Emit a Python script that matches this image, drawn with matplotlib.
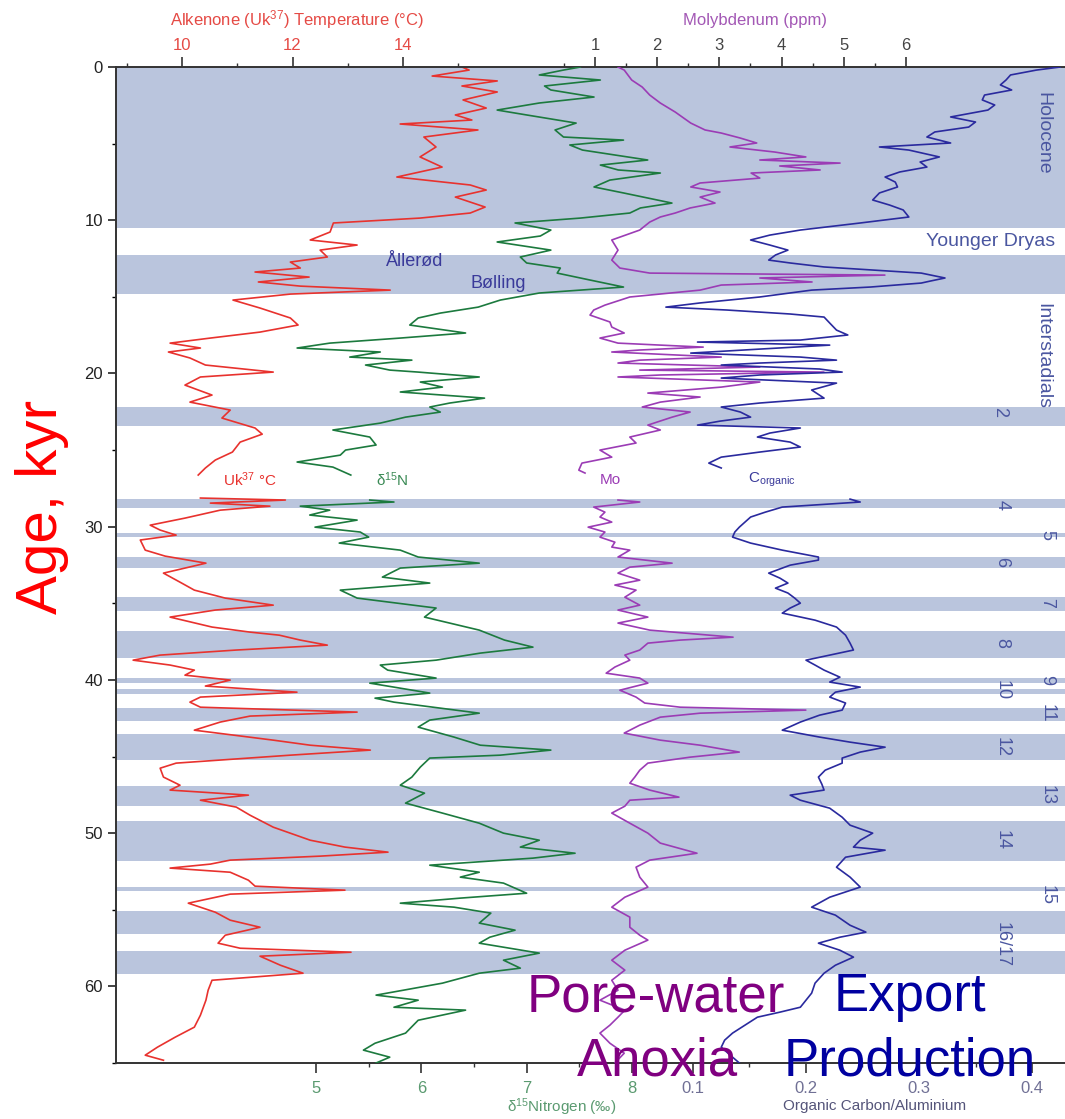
import numpy as np
import matplotlib
matplotlib.use('Agg')
import matplotlib.pyplot as plt
from matplotlib.ticker import FixedLocator

plt.rcParams['font.family'] = ['Liberation Sans', 'DejaVu Sans']
plt.rcParams['mathtext.fontset'] = 'custom'
plt.rcParams['mathtext.rm'] = 'Liberation Sans'
plt.rcParams['mathtext.it'] = 'Liberation Sans:italic'

# Alkenone temperature (deg C) vs age (kyr), two segments (gap ~27-28 kyr)
uk_age_a = [0, 0.2, 0.59, 0.91, 1.24, 1.63, 2.15, 2.68, 3.13, 3.46, 3.72, 4.11,
            4.57, 5.22, 5.87, 6.53, 7.18, 7.70, 8.03, 8.49, 9.14, 9.53, 9.86,
            10.18, 10.77, 11.29, 11.62, 11.95, 12.40, 12.73, 13.12, 13.38,
            13.71, 14.03, 14.30, 14.56, 14.82, 15.21, 15.73, 16.38, 16.84,
            17.30, 17.69, 18.02, 18.34, 18.60, 18.99, 19.45, 19.91, 20.23,
            20.76, 21.41, 21.87, 22.39, 22.91, 23.56, 23.96, 24.48, 25.13,
            25.65, 26.17, 26.63]
uk_temp_a = [15.07, 15.20, 14.53, 15.71, 15.07, 15.71, 15.09, 15.51, 14.95,
             15.25, 13.95, 15.36, 14.38, 14.60, 14.31, 14.71, 13.89, 15.22,
             15.51, 14.95, 15.49, 15.22, 14.31, 12.74, 12.68, 12.32, 13.17,
             12.50, 12.63, 11.96, 12.14, 11.32, 12.30, 11.38, 12.14, 13.77,
             11.96, 10.92, 11.41, 11.96, 12.10, 11.41, 10.51, 9.78, 10.33,
             9.75, 10.14, 10.42, 11.65, 10.33, 10.05, 10.54, 10.14, 10.87,
             10.72, 11.32, 11.45, 11.05, 10.91, 10.60, 10.42, 10.29]
uk_age_b = [28.13, 28.26, 28.46, 28.66, 28.92, 29.44, 29.90, 30.22, 30.55,
            30.87, 31.53, 31.92, 32.38, 33.03, 33.62, 34.14, 34.66, 35.12,
            35.44, 35.90, 36.55, 36.88, 37.08, 37.40, 37.73, 38.05, 38.38,
            38.71, 39.03, 39.36, 39.69, 40.01, 40.40, 40.80, 41.12, 41.45,
            41.78, 42.10, 42.36, 42.75, 43.28, 43.93, 44.26, 44.58, 44.91,
            45.43, 45.76, 46.34, 46.87, 47.19, 47.52, 47.85, 48.30, 48.83,
            49.61, 50.46, 50.91, 51.24, 51.50, 51.76, 52.02, 52.28, 52.55,
            53.07, 53.46, 53.72, 53.98, 54.57, 55.16, 55.68, 56.14, 56.66,
            57.18, 57.51, 57.77, 58.03, 58.62, 59.14, 59.60, 60.25, 60.90,
            61.88, 62.66, 63.32, 63.97, 64.49, 64.82]
uk_temp_b = [10.33, 11.87, 10.51, 11.59, 10.69, 10.05, 9.42, 9.60, 9.89, 9.24,
             9.33, 9.69, 10.43, 9.66, 9.96, 10.22, 10.78, 11.65, 10.60, 9.78,
             10.54, 11.23, 11.76, 12.14, 12.63, 10.98, 9.60, 9.11, 9.78,
             10.22, 10.05, 10.87, 10.42, 12.08, 10.33, 10.14, 10.33, 13.17,
             11.23, 10.69, 10.22, 11.65, 12.32, 13.41, 11.96, 9.89, 9.60,
             9.66, 9.96, 9.78, 11.20, 10.33, 10.98, 11.23, 11.65, 12.32, 12.95,
             13.73, 12.50, 10.87, 10.51, 9.78, 10.87, 11.20, 11.32, 12.95,
             10.87, 10.11, 10.60, 10.87, 11.41, 10.78, 10.65, 11.05, 13.06,
             11.41, 11.78, 12.19, 10.54, 10.47, 10.43, 10.33, 10.22, 9.87,
             9.55, 9.33, 9.66]

# delta 15N (permil)
n_age_a = [0, 0.2, 0.52, 0.85, 1.24, 1.50, 1.96, 2.35, 2.81, 3.13, 3.66, 4.11,
           4.57, 4.77, 5.09, 5.42, 6.07, 6.40, 6.72, 6.92, 7.38, 7.83, 8.22,
           8.88, 9.20, 9.53, 9.86, 10.18, 10.64, 11.03, 11.42, 11.95, 12.40,
           12.79, 13.12, 13.45, 13.90, 14.36, 14.75, 15.21, 15.67, 16.06,
           16.38, 16.84, 17.36, 17.69, 18.02, 18.34, 18.60, 18.93, 19.13,
           19.45, 19.78, 19.91, 20.23, 20.56, 20.89, 21.21, 21.61, 21.93,
           22.19, 22.52, 22.85, 23.24, 23.69, 24.15, 24.67, 25.00, 25.33,
           25.78, 26.11, 26.63]
n_val_a = [7.51, 7.35, 7.12, 7.70, 7.17, 7.23, 7.64, 7.12, 6.72, 7.00, 7.47,
           7.27, 7.35, 7.92, 7.41, 7.53, 8.15, 7.70, 7.87, 8.27, 7.79, 7.64,
           7.92, 8.38, 8.08, 7.98, 7.51, 6.89, 7.23, 7.13, 6.72, 7.23, 6.94,
           7.00, 7.32, 7.29, 7.60, 7.92, 7.12, 6.75, 6.54, 6.18, 5.97, 5.89,
           6.42, 5.80, 5.13, 4.82, 5.61, 5.32, 5.91, 5.47, 5.70, 5.97, 6.55,
           5.99, 6.20, 5.80, 6.60, 6.27, 6.08, 6.18, 5.85, 5.61, 5.16, 5.51,
           5.57, 5.28, 5.23, 4.82, 5.16, 5.33]
n_age_b = [28.26, 28.39, 28.66, 28.92, 29.24, 29.57, 30.03, 30.35, 30.68,
           31.07, 31.53, 31.98, 32.38, 32.70, 33.29, 33.68, 34.14, 34.66,
           35.31, 35.90, 36.75, 37.40, 37.86, 38.25, 38.71, 39.03, 39.36,
           39.88, 40.21, 40.47, 40.86, 41.19, 41.45, 42.17, 42.62, 43.08,
           43.73, 44.26, 44.58, 44.91, 45.10, 45.69, 46.34, 46.87, 47.39,
           48.04, 48.69, 49.35, 50.00, 50.46, 50.91, 51.31, 51.63, 52.09,
           52.55, 52.87, 53.26, 53.92, 54.24, 54.57, 54.83, 55.22, 55.87,
           56.33, 56.79, 57.18, 57.83, 58.29, 58.81, 59.14, 59.79, 60.57,
           60.90, 61.36, 61.55, 62.21, 63.05, 63.71, 64.16, 64.62, 65.0]
n_val_b = [5.51, 5.74, 4.85, 5.13, 4.94, 5.39, 4.99, 5.42, 5.50, 5.22, 5.80,
           5.97, 6.55, 5.80, 5.63, 6.08, 5.23, 5.39, 6.14, 6.03, 6.55, 6.79,
           7.06, 6.56, 6.14, 5.61, 5.68, 6.14, 5.51, 5.74, 6.08, 5.56, 5.74,
           6.55, 6.08, 5.97, 6.31, 6.56, 7.23, 6.75, 6.08, 5.99, 5.91, 5.80,
           6.03, 5.85, 6.20, 6.55, 6.78, 7.12, 6.94, 7.46, 7.06, 6.08, 6.55,
           6.37, 6.78, 7.00, 6.37, 5.80, 6.31, 6.66, 6.55, 6.89, 6.65, 6.55,
           7.12, 6.78, 6.94, 6.55, 6.20, 5.57, 5.97, 5.74, 6.42, 5.97, 5.85,
           5.56, 5.45, 5.70, 5.57]

# Molybdenum (ppm)
mo_age_a = [0, 0.2, 0.85, 1.31, 1.83, 2.35, 2.94, 3.66, 4.11, 4.31, 4.63,
            4.96, 5.22, 5.55, 5.87, 6.07, 6.27, 6.46, 6.72, 6.92, 7.25, 7.57,
            7.83, 8.16, 8.49, 8.88, 9.20, 9.53, 9.79, 10.12, 10.64, 11.29,
            11.95, 12.60, 13.12, 13.45, 13.58, 13.77, 14.03, 14.23, 14.56,
            15.01, 15.54, 15.86, 16.19, 16.64, 16.97, 17.36, 17.69, 18.02,
            18.28, 18.47, 18.60, 18.93, 19.13, 19.32, 19.58, 19.78, 19.91,
            20.10, 20.23, 20.56, 20.89, 21.28, 21.54, 21.87, 22.19, 22.52,
            22.85, 23.37, 23.69, 24.15, 24.54, 25.00, 25.46, 25.85, 26.31,
            26.50]
mo_val_a = [1.37, 1.47, 1.59, 1.76, 1.88, 2.05, 2.29, 2.54, 2.77, 3.03, 3.33,
            3.60, 3.17, 3.89, 4.39, 3.65, 4.94, 3.97, 4.62, 3.51, 3.65, 2.69,
            2.54, 3.01, 2.69, 2.93, 2.53, 2.29, 2.05, 1.88, 1.72, 1.27, 1.37,
            1.27, 1.40, 1.88, 5.66, 3.65, 4.49, 3.03, 2.69, 1.56, 1.16, 0.98,
            0.92, 1.24, 1.27, 1.47, 1.08, 1.37, 2.74, 1.72, 1.27, 3.03, 1.72,
            1.37, 3.65, 1.72, 4.68, 2.05, 1.37, 3.65, 3.03, 1.85, 2.69, 2.05,
            1.76, 2.53, 2.24, 1.85, 2.05, 1.56, 1.66, 1.08, 1.27, 0.79, 0.74,
            0.84]
mo_age_b = [28.26, 28.39, 28.72, 29.05, 29.37, 29.70, 30.03, 30.35, 30.68,
            31.01, 31.33, 31.53, 31.98, 32.38, 32.64, 33.03, 33.49, 33.81,
            34.14, 34.60, 35.12, 35.44, 35.90, 36.29, 36.75, 37.21, 37.40,
            37.60, 38.05, 38.38, 38.71, 39.16, 39.56, 39.88, 40.21, 40.67,
            41.12, 41.51, 41.78, 41.97, 42.17, 42.43, 42.95, 43.47, 43.93,
            44.26, 44.71, 45.04, 45.43, 45.89, 46.34, 46.74, 47.19, 47.65,
            47.85, 48.24, 48.69, 49.35, 50.00, 50.65, 51.31, 51.76, 52.22,
            52.87, 53.52, 54.18, 54.83, 55.48, 56.14, 56.66, 56.98, 57.64,
            58.29, 58.94, 59.60, 60.25, 60.90, 61.55, 62.01, 62.53, 63.05,
            63.71, 64.36, 65.0]
mo_val_b = [1.37, 1.72, 0.98, 1.16, 1.08, 1.27, 0.89, 1.16, 1.08, 1.32, 1.27,
            1.56, 1.37, 2.24, 1.56, 1.37, 1.72, 1.32, 1.66, 1.48, 1.72, 1.37,
            1.85, 1.37, 1.88, 3.22, 2.37, 1.85, 1.72, 1.48, 1.56, 1.32, 1.18,
            1.72, 1.85, 1.40, 1.66, 1.80, 2.37, 4.39, 2.69, 2.05, 1.72, 1.47,
            2.05, 2.69, 3.32, 2.53, 1.85, 1.72, 1.64, 1.56, 1.88, 2.35, 1.56,
            1.48, 1.27, 1.56, 1.85, 2.05, 2.64, 1.88, 1.66, 1.72, 1.85, 1.48,
            1.27, 1.56, 1.56, 1.72, 1.85, 1.48, 1.27, 1.48, 1.27, 1.37, 1.08,
            1.48, 1.37, 1.24, 1.08, 1.24, 1.47, 1.32]

# Organic carbon / aluminium
c_age_a = [0, 0.2, 0.52, 0.85, 1.17, 1.50, 1.83, 2.15, 2.48, 2.81, 3.26, 3.59,
           3.92, 4.24, 4.57, 4.96, 5.22, 5.42, 5.87, 6.20, 6.53, 6.85, 7.18,
           7.51, 7.83, 8.22, 8.68, 9.01, 9.33, 9.79, 10.18, 10.64, 10.97,
           11.29, 11.62, 11.95, 12.27, 12.60, 12.79, 13.05, 13.45, 13.77,
           13.97, 14.10, 14.36, 14.56, 15.01, 15.40, 15.67, 15.86, 16.12,
           16.32, 16.71, 17.17, 17.49, 17.82, 17.95, 18.15, 18.41, 18.67,
           18.93, 19.13, 19.32, 19.45, 19.71, 19.91, 20.10, 20.30, 20.63,
           21.08, 21.61, 21.93, 22.19, 22.52, 22.85, 23.11, 23.37, 23.56,
           23.89, 24.15, 24.48, 24.80, 25.13, 25.46, 25.85, 26.17]
c_val_a = [0.425, 0.404, 0.381, 0.377, 0.372, 0.382, 0.358, 0.356, 0.367,
           0.361, 0.328, 0.350, 0.344, 0.314, 0.307, 0.328, 0.265, 0.291,
           0.318, 0.301, 0.307, 0.283, 0.270, 0.279, 0.281, 0.265, 0.259,
           0.274, 0.286, 0.291, 0.248, 0.195, 0.168, 0.151, 0.168, 0.184,
           0.173, 0.167, 0.186, 0.216, 0.302, 0.323, 0.310, 0.302, 0.257,
           0.205, 0.159, 0.106, 0.076, 0.130, 0.186, 0.216, 0.221, 0.227,
           0.237, 0.195, 0.104, 0.221, 0.159, 0.098, 0.195, 0.227, 0.159,
           0.125, 0.212, 0.232, 0.159, 0.125, 0.227, 0.205, 0.216, 0.159,
           0.125, 0.142, 0.151, 0.124, 0.104, 0.195, 0.168, 0.157, 0.186,
           0.195, 0.159, 0.125, 0.114, 0.125]
c_age_b = [28.20, 28.39, 28.72, 29.05, 29.37, 29.70, 30.03, 30.35, 30.68,
           31.07, 31.53, 31.98, 32.18, 32.51, 33.03, 33.36, 33.68, 34.01,
           34.33, 34.66, 34.99, 35.31, 35.64, 36.10, 36.55, 37.08, 37.60,
           38.05, 38.38, 38.71, 39.03, 39.36, 39.82, 40.14, 40.47, 40.80,
           41.12, 41.51, 41.97, 42.30, 42.75, 43.28, 43.73, 44.06, 44.39,
           44.71, 45.10, 45.43, 45.89, 46.34, 46.80, 47.19, 47.52, 47.85,
           48.37, 48.96, 49.48, 50.00, 50.46, 50.91, 51.11, 51.57, 52.22,
           52.87, 53.52, 54.18, 54.83, 55.35, 56.01, 56.46, 56.79, 57.18,
           57.64, 58.09, 58.62, 59.14, 59.79, 60.44, 60.90, 61.36, 61.68,
           62.01, 62.53, 63.05, 63.51, 63.97, 64.49, 65.0]
c_val_b = [0.239, 0.248, 0.179, 0.164, 0.151, 0.146, 0.141, 0.137, 0.135,
           0.151, 0.179, 0.211, 0.211, 0.186, 0.167, 0.177, 0.184, 0.173,
           0.184, 0.190, 0.195, 0.186, 0.179, 0.208, 0.227, 0.235, 0.239,
           0.242, 0.221, 0.200, 0.208, 0.216, 0.230, 0.221, 0.248, 0.226,
           0.221, 0.235, 0.232, 0.212, 0.195, 0.179, 0.212, 0.239, 0.270,
           0.248, 0.232, 0.232, 0.217, 0.211, 0.214, 0.216, 0.186, 0.195,
           0.221, 0.232, 0.239, 0.259, 0.248, 0.242, 0.270, 0.235, 0.227,
           0.239, 0.248, 0.221, 0.205, 0.226, 0.239, 0.253, 0.230, 0.211,
           0.230, 0.242, 0.226, 0.216, 0.208, 0.205, 0.200, 0.195, 0.177,
           0.157, 0.146, 0.135, 0.128, 0.125, 0.133, 0.141]

# Interstadial bands (age ranges, kyr)
band_start = [0, 12.3, 22.2, 28.2, 30.4, 32.0, 34.6, 36.8, 39.9, 40.6, 41.8,
              43.5, 46.9, 49.2, 53.5, 55.1, 57.7]
band_end = [10.5, 14.8, 23.4, 28.8, 30.7, 32.7, 35.5, 38.6, 40.2, 40.9, 42.7,
            45.2, 48.2, 51.8, 53.8, 56.6, 59.2]

W, H = 1065, 1119


def fpos(x, y):
    # pixel position -> figure fraction (for text placement)
    return x / W, 1 - y / H


def main():
    fig = plt.figure(figsize=(W / 100, H / 100), dpi=100)
    ax = fig.add_axes([116 / W, 1 - 1063 / H, (W - 116) / W, (1063 - 67) / H])

    ax_mo = ax.twiny()
    ax_n = ax.twiny()
    ax_c = ax.twiny()

    ax.set_ylim(65, 0)
    ax.set_xlim(8.80, 26.0)
    ax_mo.set_xlim(-6.70, 8.556)
    ax_n.set_xlim(3.10, 12.113)
    ax_c.set_xlim(-0.4106, 0.4292)

    for s0, s1 in zip(band_start, band_end):
        ax.axhspan(s0, s1, color='#bac5dd', lw=0, zorder=0)

    lw = 1.2
    ax.plot(uk_temp_a, uk_age_a, color='#e8322e', lw=lw)
    ax.plot(uk_temp_b, uk_age_b, color='#e8322e', lw=lw)
    ax_n.plot(n_val_a, n_age_a, color='#1c7a3e', lw=lw)
    ax_n.plot(n_val_b, n_age_b, color='#1c7a3e', lw=lw)
    ax_mo.plot(mo_val_a, mo_age_a, color='#9b3cb5', lw=lw)
    ax_mo.plot(mo_val_b, mo_age_b, color='#9b3cb5', lw=lw)
    ax_c.plot(c_val_a, c_age_a, color='#2a2a9e', lw=lw)
    ax_c.plot(c_val_b, c_age_b, color='#2a2a9e', lw=lw)

    # spines
    for a in (ax_mo, ax_n, ax_c):
        for sp in a.spines.values():
            sp.set_visible(False)
    ax.spines['right'].set_visible(False)
    for k in ('left', 'top', 'bottom'):
        ax.spines[k].set_color('#333333')
        ax.spines[k].set_linewidth(1.4)

    # y axis (age)
    ax.set_yticks([0, 10, 20, 30, 40, 50, 60])
    ax.yaxis.set_minor_locator(FixedLocator([5, 15, 25, 35, 45, 55, 65]))
    ax.tick_params(axis='y', which='major', direction='out', length=6,
                   width=1.2, labelsize=12, colors='#222222')
    ax.tick_params(axis='y', which='minor', direction='out', length=3,
                   width=1.0)

    # top: temperature
    ax.xaxis.tick_top()
    ax.set_xticks([10, 12, 14])
    ax.xaxis.set_minor_locator(FixedLocator([9, 11, 13, 15]))
    ax.tick_params(axis='x', which='major', length=7, width=1.2,
                   labelsize=12, labelcolor='#e54a45', color='#333333', pad=3)
    ax.tick_params(axis='x', which='minor', length=3, width=1.0,
                   color='#333333')

    # top: molybdenum
    ax_mo.set_xticks([1, 2, 3, 4, 5, 6])
    ax_mo.xaxis.set_minor_locator(FixedLocator([0.5, 1.5, 2.5, 3.5, 4.5,
                                                5.5]))
    ax_mo.tick_params(axis='x', which='major', length=7, width=1.2,
                      labelsize=12, labelcolor='#444444', color='#333333',
                      pad=3)
    ax_mo.tick_params(axis='x', which='minor', length=3, width=1.0,
                      color='#333333')

    # bottom: delta 15N
    for a in (ax_n, ax_c):
        a.xaxis.set_ticks_position('bottom')
        a.xaxis.set_label_position('bottom')
    ax_n.set_xticks([5, 6, 7, 8])
    ax_n.xaxis.set_minor_locator(FixedLocator([5.5, 6.5, 7.5]))
    ax_n.tick_params(axis='x', which='major', length=7, width=1.2,
                     labelsize=12, labelcolor='#5a9a70', color='#333333',
                     pad=6)
    ax_n.tick_params(axis='x', which='minor', length=3, width=1.0,
                     color='#333333')

    # bottom: organic carbon / aluminium
    ax_c.set_xticks([0.1, 0.2, 0.3, 0.4])
    ax_c.set_xticklabels(['0.1', '0.2', '0.3', '0.4'])
    ax_c.xaxis.set_minor_locator(FixedLocator([0.15, 0.25, 0.35]))
    ax_c.tick_params(axis='x', which='major', length=7, width=1.2,
                     labelsize=12, labelcolor='#707095', color='#333333',
                     pad=6)
    ax_c.tick_params(axis='x', which='minor', length=3, width=1.0,
                     color='#333333')

    # axis titles
    fig.text(*fpos(297, 20), r'Alkenone (Uk$^{37}$) Temperature (°C)',
             color='#e54a45', fontsize=12, ha='center', va='center')
    fig.text(*fpos(755, 20), 'Molybdenum (ppm)', color='#a358b5',
             fontsize=12, ha='center', va='center')
    fig.text(*fpos(562, 1107), r'δ$^{15}$Nitrogen (‰)', color='#5a9a70',
             fontsize=11, ha='center', va='center')
    fig.text(*fpos(875, 1106), 'Organic Carbon/Aluminium', color='#55557a',
             fontsize=11, ha='center', va='center')

    # big annotations
    fig.text(*fpos(42, 507), 'Age, kyr', color='#ff0000', fontsize=42,
             rotation=90, ha='center', va='center')
    big = dict(fontsize=38, ha='center', va='center', zorder=10)
    fig.text(*fpos(656, 997), 'Pore-water', color='#800080', **big)
    fig.text(*fpos(657, 1061), 'Anoxia', color='#800080', **big)
    fig.text(*fpos(910, 997), 'Export', color='#0000a0', **big)
    fig.text(*fpos(910, 1061), 'Production', color='#0000a0', **big)

    # period labels
    lab = dict(color='#4a56a0', fontsize=13, ha='center', va='center')
    fig.text(*fpos(1043, 133), 'Holocene', rotation=270, fontsize=14,
             color='#4a56a0', ha='center', va='center')
    fig.text(*fpos(991, 242), 'Younger Dryas', fontsize=14, color='#4a56a0',
             ha='center', va='center')
    fig.text(*fpos(1043, 356), 'Interstadials', rotation=270, fontsize=14,
             color='#4a56a0', ha='center', va='center')
    num_labels = [('2', 1000, 412), ('4', 1002, 505), ('5', 1047, 535),
                  ('6', 1002, 562), ('7', 1047, 603), ('8', 1002, 643),
                  ('9', 1047, 680), ('10', 1002, 690), ('11', 1047, 713),
                  ('12', 1002, 747), ('13', 1047, 795), ('14', 1002, 840),
                  ('15', 1047, 895), ('16/17', 1002, 945)]
    for t, x, y in num_labels:
        fig.text(*fpos(x, y), t, rotation=270, **lab)
    fig.text(*fpos(415, 262), 'Ållerød', color='#3a3a9a', fontsize=13,
             ha='center', va='center')
    fig.text(*fpos(498, 284), 'Bølling', color='#3a3a9a', fontsize=13,
             ha='center', va='center')

    # curve labels
    fig.text(*fpos(250, 480), r'Uk$^{37}$ °C', color='#e8322e', fontsize=11,
             ha='center', va='center')
    fig.text(*fpos(392, 480), r'δ$^{15}$N', color='#3a8a55', fontsize=11,
             ha='center', va='center')
    fig.text(*fpos(610, 480), 'Mo', color='#9b3cb5', fontsize=11,
             ha='center', va='center')
    fig.text(*fpos(772, 480), r'C$_{\mathrm{organic}}$', color='#3a3a9a',
             fontsize=11, ha='center', va='center')

    fig.savefig('out.png', dpi=100)


if __name__ == '__main__':
    main()
